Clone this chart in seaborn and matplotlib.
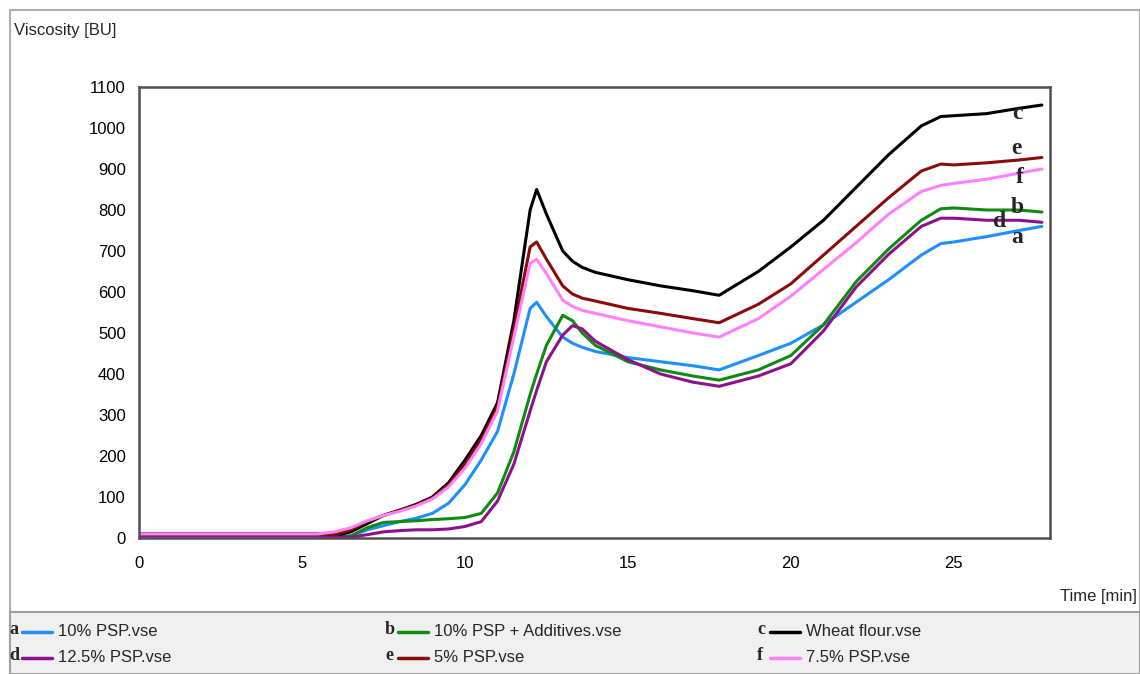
import pandas as pd
import seaborn as sns
import matplotlib.pyplot as plt
from matplotlib.patches import Rectangle
from matplotlib.lines import Line2D

# time grid (min) shared by all curves
time = [0, 5.5, 6, 6.5, 7, 7.5, 8, 8.5, 9, 9.5, 10, 10.5, 11, 11.5, 12, 12.2,
        12.5, 13, 13.3, 13.6, 14, 15, 16, 17, 17.8, 19, 20, 21, 22, 23, 24,
        24.6, 25, 26, 27, 27.7]

psp10 = [5, 5, 2, 5, 20, 30, 40, 48, 60, 85, 130, 190, 260, 400, 560, 575,
         540, 490, 475, 465, 455, 440, 430, 420, 410, 445, 475, 520, 575, 630, 690,
         718, 722, 735, 750, 760]
psp10_add = [5, 5, 2, 5, 25, 38, 40, 42, 45, 47, 50, 60, 110, 210, 350, 400,
             470, 543, 530, 500, 470, 430, 410, 395, 385, 410, 445, 520, 625, 705, 775,
             803, 805, 800, 800, 795]
wheat = [10, 10, 5, 15, 35, 55, 68, 82, 100, 135, 190, 250, 330, 530, 800, 850,
         790, 700, 675, 660, 648, 630, 615, 603, 592, 650, 710, 775, 855, 935, 1005,
         1028, 1030, 1035, 1048, 1056]
psp125 = [5, 5, 2, 2, 8, 15, 18, 20, 20, 22, 28, 40, 90, 180, 310, 360,
          430, 495, 518, 510, 480, 435, 400, 380, 370, 395, 425, 505, 612, 692, 760,
          780, 780, 775, 775, 770]
psp5 = [10, 10, 8, 20, 40, 55, 68, 80, 98, 130, 180, 240, 320, 510, 710, 722,
        680, 615, 595, 585, 578, 560, 548, 535, 525, 570, 620, 690, 760, 830, 895,
        912, 910, 915, 922, 928]
psp75 = [10, 10, 15, 25, 42, 55, 65, 78, 95, 125, 170, 230, 310, 490, 670, 680,
         645, 580, 565, 555, 548, 530, 515, 500, 490, 535, 590, 655, 720, 790, 845,
         860, 865, 875, 890, 900]

names = ["10% PSP.vse", "10% PSP + Additives.vse", "Wheat flour.vse",
         "12.5% PSP.vse", "5% PSP.vse", "7.5% PSP.vse"]
letters = ["a", "b", "c", "d", "e", "f"]
colors = ["#1e8fff", "#118a11", "#000000", "#8b128b", "#8b0a0a", "#ff80ff"]
series = [psp10, psp10_add, wheat, psp125, psp5, psp75]

# curve letters at the right end: (time, viscosity)
tag_pos = {"c": (26.8, 1035), "e": (26.75, 951), "f": (26.9, 880),
           "b": (26.75, 807), "d": (26.2, 771), "a": (26.75, 732)}

df = pd.concat([pd.DataFrame({"Time": time, "Viscosity": v, "Sample": n})
                for n, v in zip(names, series)])

sns.set_style("white")
plt.rcParams['font.family'] = ['Liberation Sans', 'DejaVu Sans']

fig = plt.figure(figsize=(11.4, 6.74), dpi=100)
W, H = 1140, 674

# outer frame and legend band
fig.patches.append(Rectangle((10 / W, 0), 1 - 10 / W, 1 - 10 / H, transform=fig.transFigure,
                             fill=False, edgecolor="#b0b0b0", lw=1.5))
fig.patches.append(Rectangle((10 / W, 0), 1 - 10 / W, (H - 612) / H, transform=fig.transFigure,
                             facecolor="#f0f0f0", edgecolor="#a0a0a0", lw=1.5))

ax = fig.add_axes([139 / W, 1 - 538 / H, (1050 - 139) / W, (538 - 87) / H])
sns.lineplot(data=df, x="Time", y="Viscosity", hue="Sample", palette=dict(zip(names, colors)),
             hue_order=names, lw=2.2, legend=False, ax=ax)

ax.set_xlim(0, 27.95)
ax.set_ylim(0, 1100)
ax.set_xticks(range(0, 26, 5))
ax.set_yticks(range(0, 1101, 100))
ax.set_xlabel("")
ax.set_ylabel("")
for s in ax.spines.values():
    s.set_color("#505050")
    s.set_linewidth(1.8)
ax.tick_params(axis="both", direction="out", length=6, width=1.5, color="#505050",
               labelsize=12, labelcolor="black")
ax.tick_params(axis="x", pad=7)

for l, (tx, vy) in tag_pos.items():
    ax.text(tx, vy, l, fontsize=17, fontweight="bold", family="Liberation Serif",
            ha="left", va="center")

fig.text(14 / W, 1 - 30 / H, "Viscosity [BU]", fontsize=12, ha="left", va="center")
fig.text(1137 / W, 1 - 597 / H, "Time [min]", fontsize=12, ha="right", va="center")

# legend in three columns
cols_x = [22, 398, 770]
rows_y = [632, 658]
for i, (n, c, l) in enumerate(zip(names, colors, letters)):
    x0 = cols_x[i % 3]
    y0 = 1 - rows_y[i // 3] / H
    fig.text((x0 - 13) / W, y0 + 0.003, l, fontsize=13, fontweight="bold",
             family="Liberation Serif", ha="left", va="center")
    fig.lines.append(Line2D([x0 / W, (x0 + 30) / W], [y0, y0], transform=fig.transFigure,
                            color=c, lw=2.5))
    fig.text((x0 + 36) / W, y0, n, fontsize=12, ha="left", va="center")

fig.savefig("out.png", dpi=100)
